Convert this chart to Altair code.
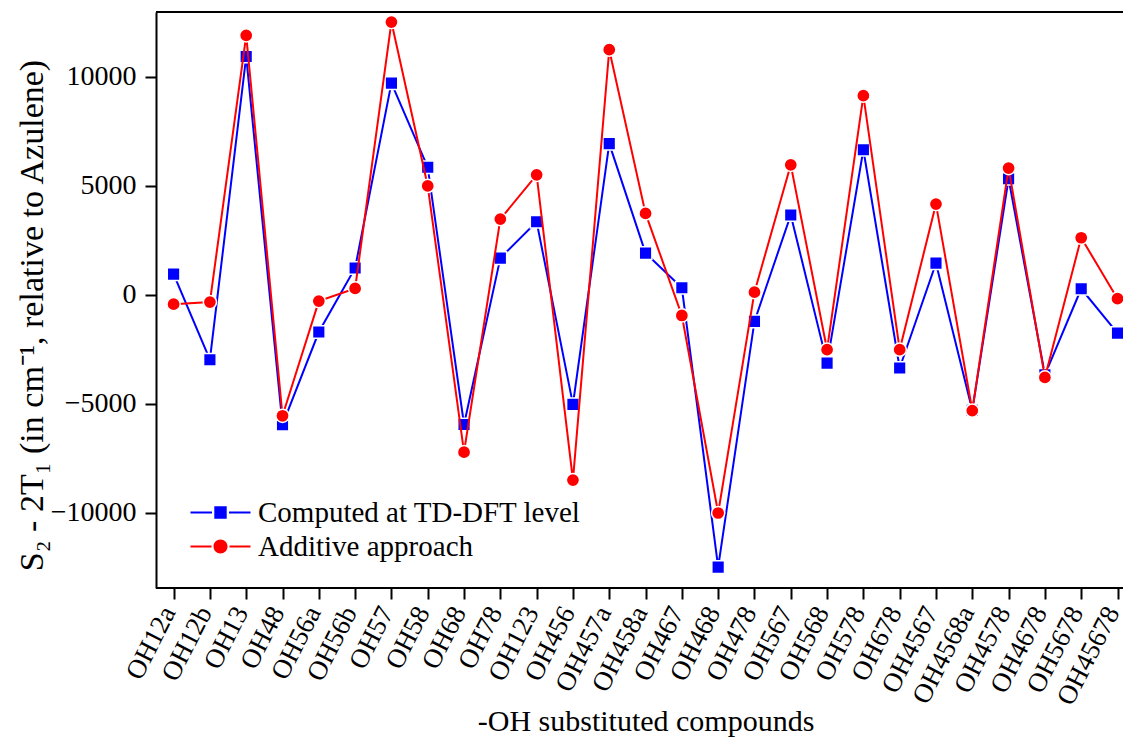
import altair as alt
import pandas as pd

compounds = ["OH12a", "OH12b", "OH13", "OH48", "OH56a", "OH56b", "OH57", "OH58",
             "OH68", "OH78", "OH123", "OH456", "OH457a", "OH458a", "OH467", "OH468",
             "OH478", "OH567", "OH568", "OH578", "OH678", "OH4567", "OH4568a",
             "OH4578", "OH4678", "OH5678", "OH45678"]

tddft = [950, -2980, 10930, -5960, -1710, 1230, 9710, 5850, -5950, 1680, 3350,
         -5030, 6930, 1910, 320, -12490, -1220, 3660, -3135, 6650, -3360, 1450,
         -5300, 5320, -3670, 275, -1760]

additive = [-430, -335, 11900, -5550, -290, 290, 12510, 4990, -7220, 3470, 5500,
            -8500, 11240, 3730, -950, -10010, 120, 5960, -2520, 9130, -2520, 4160,
            -5310, 5810, -3790, 2615, -180]

series_names = ["Computed at TD-DFT level", "Additive approach"]
series_colors = ["#0000ff", "#ff0000"]
series_shapes = ["square", "circle"]
series_sizes = [160, 175]
legend_paths = [
    "M-3,-0.1H-0.85V0.1H-3Z M0.85,-0.1H3V0.1H0.85Z M-0.62,-0.62H0.62V0.62H-0.62Z",
    "M-3,-0.1H-0.9V0.1H-3Z M0.9,-0.1H3V0.1H0.9Z M-0.7,0A0.7,0.7 0 1,0 0.7,0A0.7,0.7 0 1,0 -0.7,0Z",
]

rows = []
for name, vals in zip(series_names, [tddft, additive]):
    for c, v in zip(compounds, vals):
        rows.append({"compound": c, "value": v, "series": name})
df = pd.DataFrame(rows)

W, H = 967, 576
FONT = "Liberation Serif"

x_enc = alt.X(
    "compound:O",
    sort=compounds,
    scale=alt.Scale(type="point", range=[17.6, 961.5], padding=0),
    axis=alt.Axis(
        title="-OH substituted compounds",
        labelAngle=-63,
        labelPadding=9,
        labelOffset=-5,
        labelFontSize=27,
        domain=False,
        titleY=142,
        titleBaseline="alphabetic",
    ),
)
y_enc = alt.Y(
    "value:Q",
    scale=alt.Scale(domain=[-13450, 12970], nice=False, zero=False),
    axis=alt.Axis(
        values=[-10000, -5000, 0, 5000, 10000],
        format="d",
        title="S₂ - 2T₁ (in cm⁻¹, relative to Azulene)",
        titleFontSize=34,
        titleAngle=270,
        titleX=-114,
        titleY=H / 2 + 15,
        titleAlign="center",
        titleBaseline="alphabetic",
        labelPadding=9,
    ),
)

layers = []
for name, col, shp, sz in zip(series_names, series_colors, series_shapes, series_sizes):
    base = alt.Chart(df).transform_filter(alt.datum.series == name)
    layers.append(base.mark_line(color=col, strokeWidth=2).encode(x=x_enc, y=y_enc))
    layers.append(
        base.mark_point(shape=shp, filled=True, color=col, size=sz, opacity=1,
                        stroke="white", strokeWidth=1.5)
        .encode(x=x_enc, y=y_enc)
    )

legend_cfg = dict(
    title=None, orient="none", legendX=50, legendY=486,
    direction="vertical", labelFont=FONT, labelFontSize=29, labelLimit=0,
    labelColor="black", symbolSize=400, labelOffset=23,
    rowPadding=4, padding=0, symbolStrokeWidth=0, symbolOpacity=1,
)

legend_layer = (
    alt.Chart(df)
    .transform_filter("false")
    .mark_point(filled=True, opacity=1)
    .encode(
        color=alt.Color(
            "series:N",
            scale=alt.Scale(domain=series_names, range=series_colors),
            legend=alt.Legend(**legend_cfg),
        ),
        shape=alt.Shape(
            "series:N",
            scale=alt.Scale(domain=series_names, range=legend_paths),
            legend=alt.Legend(**legend_cfg),
        ),
    )
)

frame_base = alt.Chart(df).transform_filter(alt.datum.compound == compounds[0])
top_border = frame_base.mark_rule(color="black", strokeWidth=2).encode(
    x=alt.value(0), x2=alt.value(W), y=alt.value(0)
)
bottom_border = frame_base.mark_rule(color="black", strokeWidth=2).encode(
    x=alt.value(0), x2=alt.value(W), y=alt.value(H)
)

chart = (
    alt.layer(*layers, legend_layer, top_border, bottom_border)
    .properties(
        width=W,
        height=H,
        autosize=alt.AutoSizeParams(type="none"),
        padding={"left": 156, "top": 12, "right": 0, "bottom": 150},
        background="white",
    )
    .configure_view(stroke=None)
    .configure_axis(
        grid=False,
        domainColor="black",
        domainWidth=2,
        tickColor="black",
        tickWidth=2,
        tickSize=11,
        labelFont=FONT,
        labelFontSize=28,
        labelColor="black",
        titleFont=FONT,
        titleFontSize=30,
        titleColor="black",
        titleFontWeight="normal",
    )
)

chart.save("out.html", embed_options={"renderer": "svg", "actions": False})
